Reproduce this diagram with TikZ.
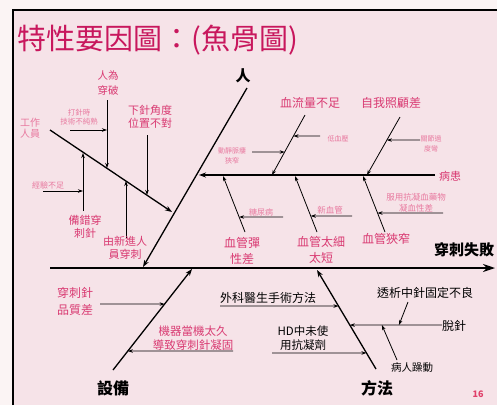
\documentclass[tikz,border=0pt]{standalone}
\usepackage{fontspec}
\setmainfont{Noto Sans CJK TC}
\usetikzlibrary{arrows.meta,calc}
\definecolor{bgout}{HTML}{FBF4F4}
\definecolor{bgin}{HTML}{F6E3E8}
\definecolor{titlec}{HTML}{C8175D}
\definecolor{pinkt}{HTML}{D93A72}
\definecolor{lpink}{HTML}{E8799F}
\definecolor{pagec}{HTML}{E0406A}
\tikzset{
  bone/.style={line width=1.3pt,-{Stealth[length=7pt,width=5pt]}},
  spine/.style={line width=1.8pt,-{Stealth[length=12pt,width=8pt]}},
  sub/.style={line width=0.8pt,-{Stealth[length=5pt,width=3.5pt]}},
  lbl/.style={inner sep=0pt,align=center,text=pinkt},
  slbl/.style={inner sep=0pt,align=center,text=lpink},
  blbl/.style={inner sep=0pt,align=center,text=black},
}
\newcommand{\fs}[1]{\fontsize{#1}{#1}\selectfont}
\newcommand{\fsl}[2]{\fontsize{#1}{#2}\selectfont}
\begin{document}
\begin{tikzpicture}[x=1pt,y=-1pt]
\useasboundingbox (0,0) rectangle (497,405);
\fill[bgout] (0,0) rectangle (497,405);
\fill[bgin] (13,10) rectangle (497,405);
\draw[line width=1.5pt] (13,405) -- (13,10) -- (497,10);

% title
\node[inner sep=0pt,anchor=west,text=titlec,font=\fs{29}] (title) at (17,40) {特性要因圖：(魚骨圖)};

% coordinates
\coordinate (S0) at (50,268);
\coordinate (S1) at (495,268);
\coordinate (RT) at (247,88);
\coordinate (RB) at (143,267);
\coordinate (PR) at (435,175);
\coordinate (PL) at (199,175);
\coordinate (WS) at (50,130);
\coordinate (WE) at (172,212);
\coordinate (A1) at (107,100);
\coordinate (A2) at (107,168);
\coordinate (B1) at (70,130);
\coordinate (B2) at (107,130);
\coordinate (C1) at (147,135);
\coordinate (C2) at (147,195);
\coordinate (D1) at (83,211);
\coordinate (D2) at (83,153);
\coordinate (E1) at (43,191);
\coordinate (E2) at (83,191);
\coordinate (F1) at (126,238);
\coordinate (F2) at (126,181);
\coordinate (G1) at (305,115);
\coordinate (G2) at (272,175);
\coordinate (H1) at (320,136);
\coordinate (H2) at ($(G1)!0.35!(G2)$);
\coordinate (I1) at (252,152);
\coordinate (I2) at ($(G1)!0.617!(G2)$);
\coordinate (J1) at (400,117);
\coordinate (J2) at (367,175);
\coordinate (K1) at (420,140);
\coordinate (K2) at ($(J1)!0.397!(J2)$);
\coordinate (L1) at (245,232);
\coordinate (L2) at (223,176);
\coordinate (M1) at (283,217);
\coordinate (M2) at ($(L1)!0.268!(L2)$);
\coordinate (N1) at (317,232);
\coordinate (N2) at (295,176);
\coordinate (O1) at (352,216);
\coordinate (O2) at ($(N1)!0.286!(N2)$);
\coordinate (P1) at (385,232);
\coordinate (P2) at (363,176);
\coordinate (Q1) at (443,213);
\coordinate (Q2) at ($(P1)!0.339!(P2)$);
\coordinate (T1) at (113,370);
\coordinate (T2) at (192,269);
\coordinate (U1) at (100,304);
\coordinate (U2) at ($(T1)!0.653!(T2)$);
\coordinate (V1) at (233,351);
\coordinate (V2) at ($(T1)!0.188!(T2)$);
\coordinate (X1) at (376,369);
\coordinate (X2) at (317,270);
\coordinate (Y1) at (220,306);
\coordinate (Y2) at ($(X1)!0.636!(X2)$);
\coordinate (Z1) at (272,353);
\coordinate (Z2) at ($(X1)!0.162!(X2)$);
\coordinate (W1) at (442,325);
\coordinate (W2) at ($(X1)!0.444!(X2)$);
\coordinate (TA) at (408,302);
\coordinate (TB) at ($(W1)!0.467!(W2)$);
\coordinate (BA) at (397,360);
\coordinate (BB) at ($(W1)!0.652!(W2)$);

% spine and main bones
\draw[spine] (S0) -- (S1);
\draw[bone] (RT) -- (RB);
\draw[bone] (PR) -- (PL);
\draw[bone] (WS) -- (WE);
\draw[bone] (T1) -- (T2);
\draw[bone] (X1) -- (X2);

% person side
\draw[sub] (A1) -- (A2);
\draw[sub] (B1) -- (B2);
\draw[sub] (C1) -- (C2);
\draw[sub] (D1) -- (D2);
\draw[sub] (E1) -- (E2);
\draw[sub] (F1) -- (F2);

% patient side
\draw[sub] (G1) -- (G2);
\draw[sub] (H1) -- (H2);
\draw[sub] (I1) -- (I2);
\draw[sub] (J1) -- (J2);
\draw[sub] (K1) -- (K2);
\draw[sub] (L1) -- (L2);
\draw[sub] (M1) -- (M2);
\draw[sub] (N1) -- (N2);
\draw[sub] (O1) -- (O2);
\draw[sub] (P1) -- (P2);
\draw[sub] (Q1) -- (Q2);

% lower
\draw[sub] (U1) -- (U2);
\draw[sub] (V1) -- (V2);
\draw[sub] (Y1) -- (Y2);
\draw[sub] (Z1) -- (Z2);
\draw[sub] (W1) -- (W2);
\draw[sub] (TA) -- (TB);
\draw[sub] (BA) -- (BB);

% labels
\node[blbl,font=\fs{15}\bfseries] (lren) at (243,76) {人};
\node[lbl,font=\fsl{10.5}{15}] (l1) at (108,83) {人為\\穿破};
\node[slbl,font=\fsl{7.5}{9.5}] (l2) at (79,117) {打針時\\技術不純熟};
\node[lbl,font=\fsl{11}{12.5}] (l3) at (150,117) {下針角度\\位置不對};
\node[slbl,font=\fsl{10}{10.5}] (l4) at (30,128) {工作\\人員};
\node[slbl,font=\fs{8}] (l5) at (48,185) {經驗不足};
\node[lbl,font=\fsl{11}{12.5}] (l6) at (85,227) {備錯穿\\刺針};
\node[lbl,font=\fsl{11}{13.5}] (l7) at (125,248) {由新進人\\員穿刺};

\node[lbl,font=\fs{12}] (l8) at (310,103) {血流量不足};
\node[slbl,font=\fs{7}] (l9) at (338,139) {低血壓};
\node[slbl,font=\fsl{7}{10}] (l10) at (232,156) {動靜脈瘻\\狹窄};
\node[lbl,font=\fs{12}] (l11) at (391,103) {自我照顧差};
\node[slbl,font=\fsl{7}{10}] (l12) at (431,144) {關節過\\度彎};
\node[lbl,font=\fs{11}] (l13) at (450,176) {病患};
\node[slbl,font=\fs{8}] (l14) at (261,212) {糖尿病};
\node[lbl,font=\fsl{12}{16}] (l15) at (242,251) {血管彈\\性差};
\node[slbl,font=\fs{8.5}] (l16) at (330,210) {新血管};
\node[lbl,font=\fsl{12}{16}] (l17) at (321,250) {血管太細\\太短};
\node[slbl,font=\fsl{8.5}{11}] (l18) at (416,203) {服用抗凝血藥物\\凝血性差};
\node[lbl,font=\fs{12}] (l19) at (386,239) {血管狹窄};
\node[blbl,font=\fs{15}\bfseries] (l20) at (464,250) {穿刺失敗};

\node[lbl,font=\fsl{12}{17}] (l21) at (75,301) {穿刺針\\品質差};
\node[lbl,font=\fsl{11.5}{14}] (l22) at (193,338) {機器當機太久\\導致穿刺針凝固};
\node[blbl,font=\fs{16}\bfseries] (l23) at (113,388) {設備};
\node[blbl,font=\fs{12}] (l24) at (268,298) {外科醫生手術方法};
\node[blbl,font=\fsl{11.5}{14}] (l25) at (303,338) {HD中未使\\用抗凝劑};
\node[blbl,font=\fs{12}] (l26) at (425,293) {透析中針固定不良};
\node[blbl,font=\fs{12}] (l27) at (454,326) {脫針};
\node[blbl,font=\fs{10.5}] (l28) at (412,368) {病人躁動};
\node[blbl,font=\fs{16}\bfseries] (l29) at (377,388) {方法};
\node[inner sep=0pt,text=pagec,font=\fs{9}\bfseries] (pg) at (478,394) {16};
\end{tikzpicture}
\end{document}
